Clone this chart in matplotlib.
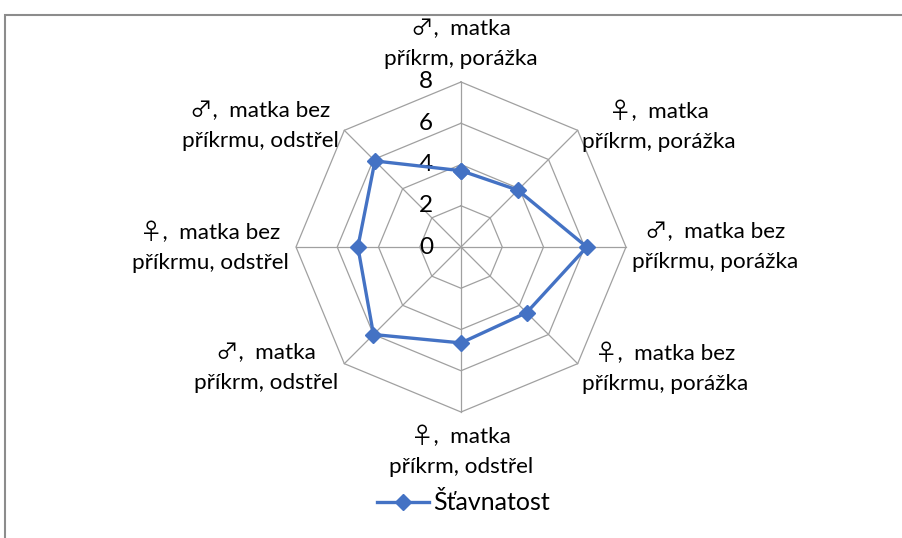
import numpy as np
import matplotlib.pyplot as plt
from matplotlib.lines import Line2D

# categories clockwise from the top, as in the Excel radar chart
categories = [
    "♂,  matka\npříkrm, porážka",
    "♀,  matka\npříkrm, porážka",
    "♂,  matka bez\npříkrmu, porážka",
    "♀,  matka bez\npříkrmu, porážka",
    "♀,  matka\npříkrm, odstřel",
    "♂,  matka\npříkrm, odstřel",
    "♀,  matka bez\npříkrmu, odstřel",
    "♂,  matka bez\npříkrmu, odstřel",
]
stavnatost = [3.7, 3.9, 6.1, 4.5, 4.65, 6.0, 5.0, 5.9]
r_ticks = [0, 2, 4, 6, 8]
series_name = "Šťavnatost"

plt.rcParams['font.family'] = ['Lato', 'Noto Sans CJK JP', 'DejaVu Sans']

W, H = 902, 538
fig = plt.figure(figsize=(W / 100, H / 100), dpi=100)
ax = fig.add_axes([0, 0, 1, 1])
ax.set_xlim(0, W)
ax.set_ylim(H, 0)
ax.axis('off')

cx, cy = 461, 247
scale = 165 / r_ticks[-1]
n = len(categories)
ang = np.pi / 2 - 2 * np.pi * np.arange(n) / n


def to_xy(r, a):
    return cx + r * scale * np.cos(a), cy - r * scale * np.sin(a)


grid_col = '#a0a0a0'
# polygon gridlines
for t in r_ticks[1:]:
    xs, ys = to_xy(np.full(n + 1, t), np.append(ang, ang[0]))
    ax.plot(xs, ys, color=grid_col, lw=0.9, zorder=1)
# spokes
for a in ang:
    xs, ys = to_xy(np.array([0, r_ticks[-1]]), np.array([a, a]))
    ax.plot(xs, ys, color=grid_col, lw=0.9, zorder=1)

# tick labels along the top spoke
for t in r_ticks:
    ax.text(cx - 28, cy - t * scale, str(t), ha='right', va='center',
            fontsize=17.5, zorder=3)

# the series
vals = np.array(stavnatost + stavnatost[:1])
xs, ys = to_xy(vals, np.append(ang, ang[0]))
blue = '#4472c4'
ax.plot(xs, ys, color=blue, lw=2.4, marker='D', ms=8.5, zorder=4)

# category labels (Excel-style placement)
label_pos = [
    (461, 44), (659, 126), (715, 247), (665, 368),
    (461, 451), (266, 368), (210, 247), (260, 126),
]
for lab, (x, y) in zip(categories, label_pos):
    ax.text(x, y, lab, ha='center', va='center', fontsize=16.2,
            linespacing=1.62, zorder=3)

# legend
handle = Line2D([], [], color=blue, lw=2.4, marker='D', ms=8.5)
ax.legend([handle], [series_name], loc='center',
          bbox_to_anchor=(463 / W, 1 - 503 / H), frameon=False,
          fontsize=18, handlelength=2.1, handletextpad=0.15)

# chart border (partially cut off in the original)
ax.plot([5, 5, W], [H, 15, 15], color='#8c8c8c', lw=1.5, zorder=5,
        solid_joinstyle='miter')

fig.savefig('out.png', dpi=100)
